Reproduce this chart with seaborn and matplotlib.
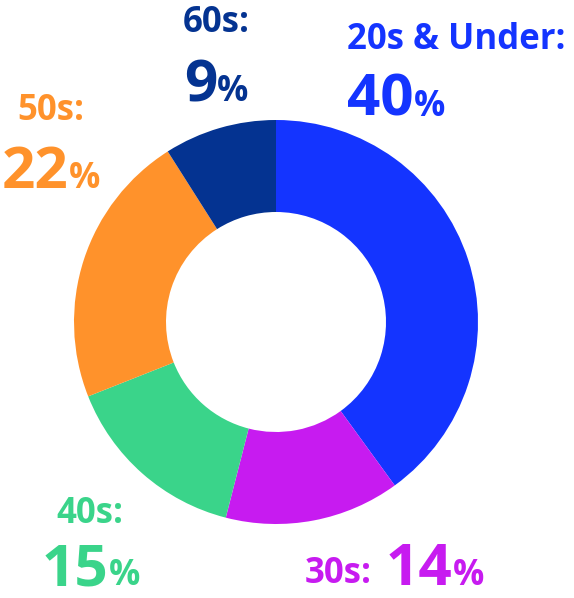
import matplotlib
matplotlib.use("Agg")
import matplotlib.pyplot as plt
import seaborn as sns

# age groups and their share of the total (%)
groups = ["20s & Under", "30s", "40s", "50s", "60s"]
shares = [40, 14, 15, 22, 9]
colors = ["#1434FF", "#C71BF0", "#3AD48A", "#FF922B", "#043391"]

W, H = 574, 598

# where each label sits, in pixels from the top-left:
# (label x, label baseline, label align, number x, number baseline, number align)
layout = {
    "20s & Under": (347, 49, "left", 347, 116, "left"),
    "30s": (305, 583, "left", 386, 585, "left"),
    "40s": (90, 523, "center", 91, 585, "center"),
    "50s": (51, 120, "center", 51, 188, "center"),
    "60s": (216, 32, "center", 216, 101, "center"),
}

sns.set_style("white")
plt.rcParams["font.family"] = ["Open Sans", "DejaVu Sans"]

fig = plt.figure(figsize=(W / 100, H / 100), dpi=100)
ax = fig.add_axes([0, 0, 1, 1])
ax.pie(shares, colors=colors, startangle=90, counterclock=False,
       radius=202, center=(276, H - 322),
       wedgeprops=dict(width=92, linewidth=0))
ax.set_xlim(0, W)
ax.set_ylim(0, H)
ax.set_aspect("equal")
ax.axis("off")

fig.canvas.draw()
renderer = fig.canvas.get_renderer()


def text_width(t):
    return t.get_window_extent(renderer=renderer).width


for name, share, color in zip(groups, shares, colors):
    lx, ly, lha, nx, ny, nha = layout[name]
    ax.text(lx, H - ly, name + ":", color=color, fontsize=25,
            fontweight="bold", ha=lha, va="baseline")
    num = ax.text(0, H - ny, str(share), color=color, fontsize=42,
                  fontweight="bold", ha="left", va="baseline")
    pct = ax.text(0, H - ny, "%", color=color, fontsize=25,
                  fontweight="bold", ha="left", va="baseline")
    wn, wp = text_width(num), text_width(pct)
    x0 = nx if nha == "left" else nx - (wn + wp) / 2
    num.set_x(x0)
    pct.set_x(x0 + wn)

fig.savefig("out.png", dpi=100)
